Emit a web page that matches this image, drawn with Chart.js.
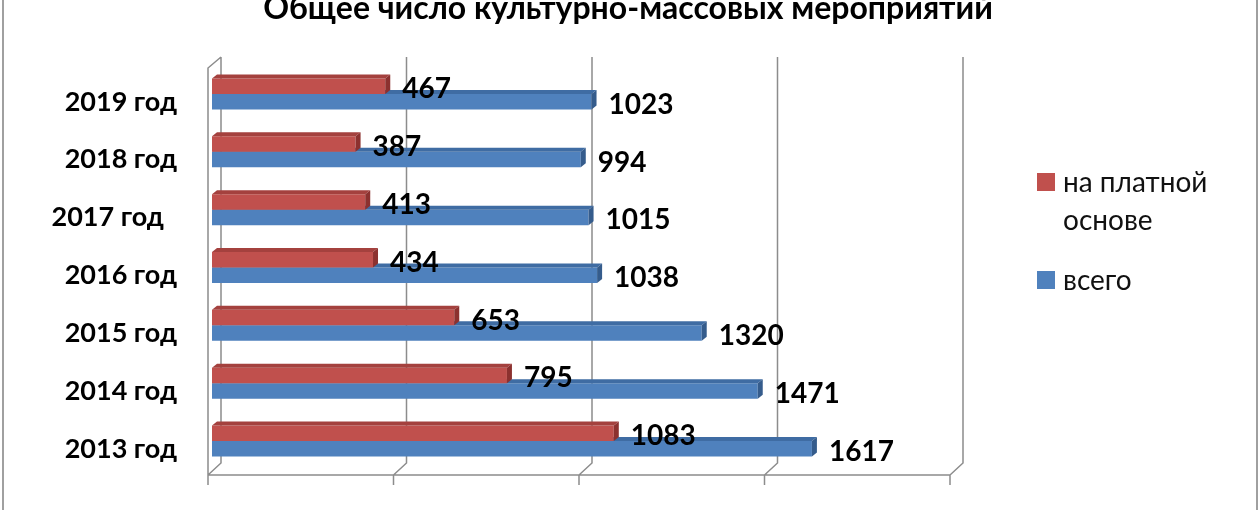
<!DOCTYPE html>
<html>
<head>
<meta charset="utf-8">
<script src="https://cdn.jsdelivr.net/npm/chart.js@4.4.1/dist/chart.umd.min.js"></script>
<style>
  html, body { margin: 0; padding: 0; background: #fff; }
  #wrap { width: 1260px; height: 510px; }
</style>
</head>
<body>
<div id="wrap"><canvas id="myChart" width="1260" height="510"></canvas></div>
<script>
var titleText = 'Общее число культурно-массовых мероприятий';
var years = ['2019 год', '2018 год', '2017 год  ', '2016 год', '2015 год', '2014 год', '2013 год'];
var paid = [467, 387, 413, 434, 653, 795, 1083];
var total = [1023, 994, 1015, 1038, 1320, 1471, 1617];
var seriesNames = ['на платной основе', 'всего'];
var legendLines = [['на платной', 'основе'], ['всего']];
var xTicks = [0, 500, 1000, 1500, 2000];

var DX = 5, DY = 4;            // bar depth
var faces = [
  { front: '#C0504D', top: '#A4413E', side: '#8C312F' },
  { front: '#4F81BD', top: '#3F6CA3', side: '#355C8C' }
];

var frame3d = {
  id: 'frame3d',
  beforeDatasetsDraw(chart) {
    var ctx = chart.ctx, x = chart.scales.x, a = chart.chartArea;
    var top = 57, back = a.bottom - 7, front = a.bottom + 5;
    ctx.save();
    ctx.strokeStyle = '#8c8c8c';
    ctx.lineWidth = 1.5;
    ctx.beginPath();
    xTicks.forEach(v => {
      var bx = x.getPixelForValue(v) + 9;
      ctx.moveTo(bx, top); ctx.lineTo(bx, back);
      ctx.lineTo(bx - 13, front); ctx.lineTo(bx - 13, front + 10);
    });
    var l = x.getPixelForValue(xTicks[0]) - 4;
    var r = x.getPixelForValue(xTicks[xTicks.length - 1]) - 4;
    ctx.moveTo(l, front); ctx.lineTo(r, front);
    // left wall front edge and top
    ctx.moveTo(l, front); ctx.lineTo(l, top + 11); ctx.lineTo(l + 13, top);
    ctx.stroke();
    ctx.restore();
  },
  afterDatasetDraw(chart, args) {
    var ctx = chart.ctx, f = faces[args.index];
    ctx.save();
    args.meta.data.forEach(bar => {
      var p = bar.getProps(['x', 'y', 'base', 'height'], true);
      var left = Math.min(p.base, p.x), right = Math.max(p.base, p.x);
      var t = p.y - p.height / 2, b = p.y + p.height / 2;
      ctx.fillStyle = f.top;
      ctx.beginPath();
      ctx.moveTo(left, t); ctx.lineTo(left + DX, t - DY);
      ctx.lineTo(right + DX, t - DY); ctx.lineTo(right, t);
      ctx.closePath(); ctx.fill();
      ctx.fillStyle = f.side;
      ctx.beginPath();
      ctx.moveTo(right, t); ctx.lineTo(right + DX, t - DY);
      ctx.lineTo(right + DX, b - DY); ctx.lineTo(right, b);
      ctx.closePath(); ctx.fill();
    });
    ctx.restore();
  },
  afterDraw(chart) {
    var ctx = chart.ctx;
    ctx.save();
    // value labels
    ctx.fillStyle = '#000';
    ctx.font = 'bold 28px Lato';
    ctx.textBaseline = 'middle';
    ctx.textAlign = 'left';
    chart.data.datasets.forEach((ds, i) => {
      chart.getDatasetMeta(i).data.forEach((bar, j) => {
        ctx.fillText(String(ds.data[j]), bar.x + 17, bar.y + 3);
      });
    });
    // title
    ctx.font = 'bold 32px Lato';
    ctx.textAlign = 'center';
    ctx.textBaseline = 'alphabetic';
    ctx.fillText(titleText, 628, 19);
    // legend
    ctx.font = '28px Lato';
    ctx.textAlign = 'left';
    var ly = [[192, 230], [290]];
    chart.data.datasets.forEach((ds, i) => {
      ctx.fillStyle = ds.backgroundColor;
      ctx.fillRect(1037, ly[i][0] - 19, 18, 18);
      ctx.fillStyle = '#111';
      legendLines[i].forEach((line, k) => ctx.fillText(line, 1063, ly[i][k]));
    });
    // outer frame
    ctx.strokeStyle = '#a0a0a0';
    ctx.lineWidth = 2;
    ctx.beginPath();
    ctx.moveTo(3, 0); ctx.lineTo(3, 510);
    ctx.moveTo(1257, 0); ctx.lineTo(1257, 510);
    ctx.stroke();
    ctx.restore();
  }
};

new Chart(document.getElementById('myChart'), {
  type: 'bar',
  data: {
    labels: years,
    datasets: [
      { label: seriesNames[0], data: paid, backgroundColor: faces[0].front, borderWidth: 0 },
      { label: seriesNames[1], data: total, backgroundColor: faces[1].front, borderWidth: 0 }
    ]
  },
  options: {
    indexAxis: 'y',
    responsive: false,
    animation: false,
    devicePixelRatio: 1,
    categoryPercentage: 0.536,
    barPercentage: 1,
    layout: { padding: { top: 65, right: 306, bottom: 40, left: 0 } },
    plugins: { legend: { display: false }, title: { display: false }, tooltip: { enabled: false } },
    scales: {
      x: { type: 'linear', min: 0, max: 2000, display: false },
      y: {
        grid: { display: false, drawTicks: false },
        border: { display: false },
        ticks: { color: '#000', font: { family: 'Lato', size: 27, weight: 'bold' }, padding: 35, labelOffset: 8 },
        afterFit(scale) {
          scale.width = 212;
          scale.paddingTop = 0;
          scale.paddingBottom = 0;
        }
      }
    }
  },
  plugins: [frame3d]
});
</script>
</body>
</html>
